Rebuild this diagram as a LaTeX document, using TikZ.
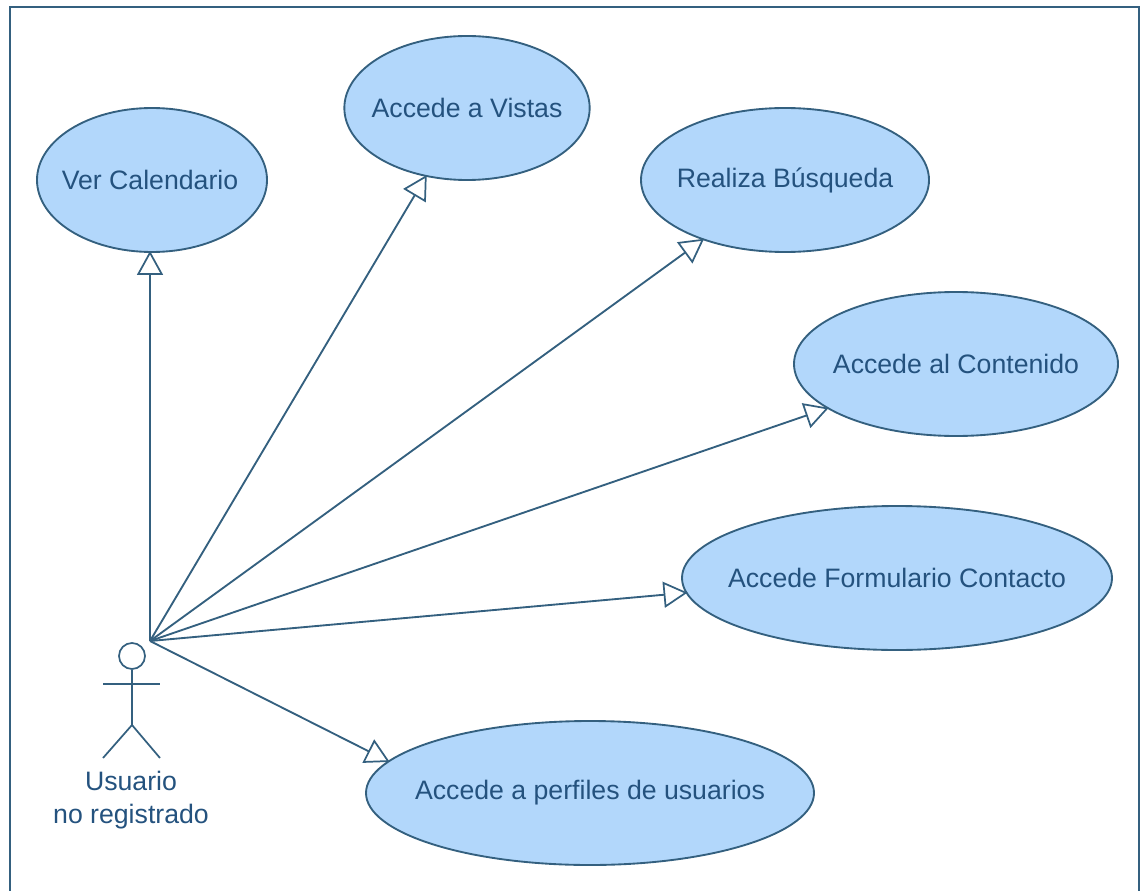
\documentclass[tikz,border=0pt]{standalone}
\usepackage{fontspec}
\setmainfont{Liberation Sans}
\usetikzlibrary{shapes, positioning, arrows.meta}
\definecolor{linea}{HTML}{34607F}
\definecolor{relleno}{HTML}{B2D7FB}
\definecolor{texto}{HTML}{24527E}
\tikzstyle{caso}=[ellipse, align=center, inner sep=0pt, minimum height=108pt, line width=1.4pt, fill=relleno, draw=linea, text=texto, font=\dimg]
\tikzstyle{flecha}=[-{Triangle[open, fill=white, length=18pt, width=19.5pt, line width=1.3pt]}, shorten >=-1.5pt, line width=1.4pt, draw=linea]
\tikzstyle{monigote}=[line width=1.3pt, draw=linea]
\newcommand{\dimg}{\fontsize{20}{24.5}\selectfont}
\newcommand{\etq}[1]{\makebox[0pt]{#1}}

\begin{document}
\begin{tikzpicture}[x=0.75pt, y=-0.75pt]
    \useasboundingbox (0,0) rectangle (1141,891);
    \draw [line width=2pt, draw=linea] (10,900) -- (10,7) -- (1139,7) -- (1139,900);

    \node [caso, minimum width = 172.5pt] (calendario) at (152,180) {\etq{\hspace{-3pt}Ver Calendario}};
    \node [caso, minimum width = 184pt] (vistas) at (467,108) {\etq{Accede a Vistas}};
    \node [caso, minimum width = 216pt] (busqueda) at (785,180) {\etq{Realiza Búsqueda}};
    \node [caso, minimum width = 243pt] (contenido) at (956,364) {\etq{Accede al Contenido}};
    \node [caso, minimum width = 322.5pt] (contacto) at (897,578) {\etq{Accede Formulario Contacto}};
    \node [caso, minimum width = 336pt] (perfiles) at (590,793) {\etq{Accede a perfiles de usuarios}};

    \coordinate (usuario) at (150,641);
    \draw [flecha] (usuario) -- (calendario.south -| usuario);
    \draw [flecha] (usuario) -- (vistas.239.5);
    \draw [flecha] (usuario) -- (busqueda.216.1);
    \draw [flecha] (usuario) -- (contenido.199);
    \draw [flecha] (usuario) -- (contacto.184.6);
    \draw [flecha] (usuario) -- (perfiles.171.6);

    % actor
    \node [circle, monigote, minimum size = 19.5pt, inner sep=0pt] (cabeza) at (132,656) {};
    \coordinate (cadera) at (132,725);
    \coordinate (brazoi) at (103,684);
    \coordinate (brazod) at (160,684);
    \coordinate (piei) at (103,758);
    \coordinate (pied) at (160,758);
    \draw [monigote] (cabeza) -- (cadera);
    \draw [monigote] (brazoi) -- (brazod);
    \draw [monigote] (piei) -- (cadera) -- (pied);
    \node [align=center, text=texto, font=\dimg, inner sep=0pt] (etiqueta) at (131,800) {Usuario\\no registrado};
\end{tikzpicture}
\end{document}
